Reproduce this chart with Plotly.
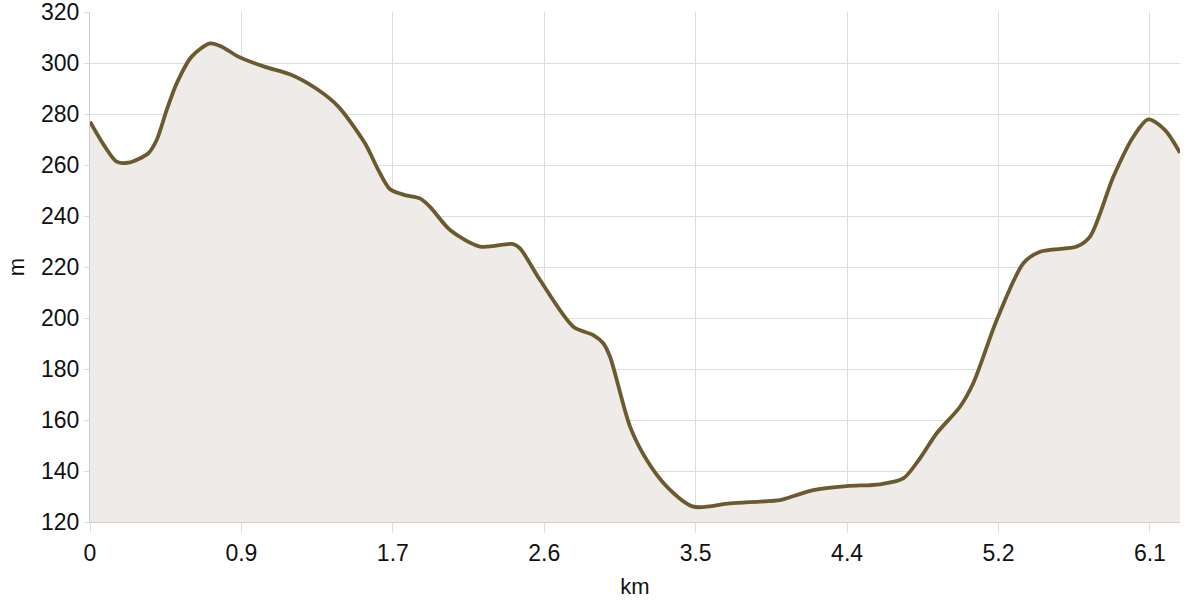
import plotly.graph_objects as go

distance_km = [0, 0.080, 0.153, 0.220, 0.335, 0.383, 0.441, 0.498, 0.584, 0.690,
               0.757, 0.852, 1.006, 1.159, 1.312, 1.427, 1.580, 1.657, 1.724, 1.810,
               1.896, 1.954, 2.069, 2.241, 2.432, 2.471, 2.586, 2.777, 2.892, 2.949,
               2.988, 3.103, 3.199, 3.314, 3.467, 3.677, 3.965, 4.003, 4.156, 4.348,
               4.539, 4.673, 4.769, 4.865, 4.999, 5.075, 5.210, 5.363, 5.459, 5.670,
               5.746, 5.880, 5.995, 6.081, 6.177, 6.263]
elevation_m = [277.0, 267.8, 261.3, 260.9, 264.6, 269.8, 281.6, 292.0, 302.5, 307.7,
               306.4, 302.5, 298.5, 295.3, 289.4, 282.9, 268.5, 258.0, 250.5, 248.2,
               246.9, 243.6, 234.5, 228.0, 229.0, 227.3, 214.9, 196.6, 193.3, 190.1,
               184.8, 157.4, 144.3, 133.9, 126.0, 127.3, 128.6, 129.3, 132.5, 134.1,
               134.8, 137.1, 145.0, 154.8, 165.2, 174.4, 199.2, 221.5, 226.0, 228.0,
               231.9, 255.4, 271.1, 277.9, 273.7, 264.8]

x_tick_vals = [0, 0.87, 1.74, 2.61, 3.48, 4.35, 5.22, 6.09]
x_tick_text = ["0", "0.9", "1.7", "2.6", "3.5", "4.4", "5.2", "6.1"]
y_tick_vals = [120, 140, 160, 180, 200, 220, 240, 260, 280, 300, 320]

fig = go.Figure()
fig.add_trace(go.Scatter(
    x=distance_km, y=elevation_m, mode="lines",
    line=dict(color="#6b5a2e", width=3.8, shape="spline", smoothing=0.8),
    fill="tozeroy", fillcolor="#efebe8", hoverinfo="x+y", showlegend=False,
))

font_family = "Liberation Sans, Arial, Helvetica, sans-serif"
grid = "#dddddd"
fig.update_layout(
    width=1200, height=600,
    margin=dict(l=90, r=20, t=12, b=78, autoexpand=False),
    plot_bgcolor="white", paper_bgcolor="white",
    font=dict(family=font_family, size=23, color="#111111"),
    xaxis=dict(
        range=[0, distance_km[-1]], tickvals=x_tick_vals, ticktext=x_tick_text,
        showgrid=True, gridcolor=grid, gridwidth=1,
        showline=True, linecolor="#cccccc", linewidth=1,
        ticks="outside", ticklen=10, tickcolor=grid,
        tickfont=dict(size=23), zeroline=False, automargin=False,
        ticklabeloverflow="allow",
        title=dict(text="km", font=dict(size=22), standoff=14),
    ),
    yaxis=dict(
        range=[120, 320], tickvals=y_tick_vals,
        showgrid=True, gridcolor=grid, gridwidth=1,
        showline=True, linecolor="#cccccc", linewidth=1,
        ticks="outside", ticklen=5, tickcolor=grid,
        tickfont=dict(size=23), zeroline=False, automargin=False,
        ticklabeloverflow="allow",
        title=dict(text="m", font=dict(size=22), standoff=10),
    ),
)

fig.write_html("out.html", config={"displayModeBar": False},
               post_script="document.body.style.margin='0';")
